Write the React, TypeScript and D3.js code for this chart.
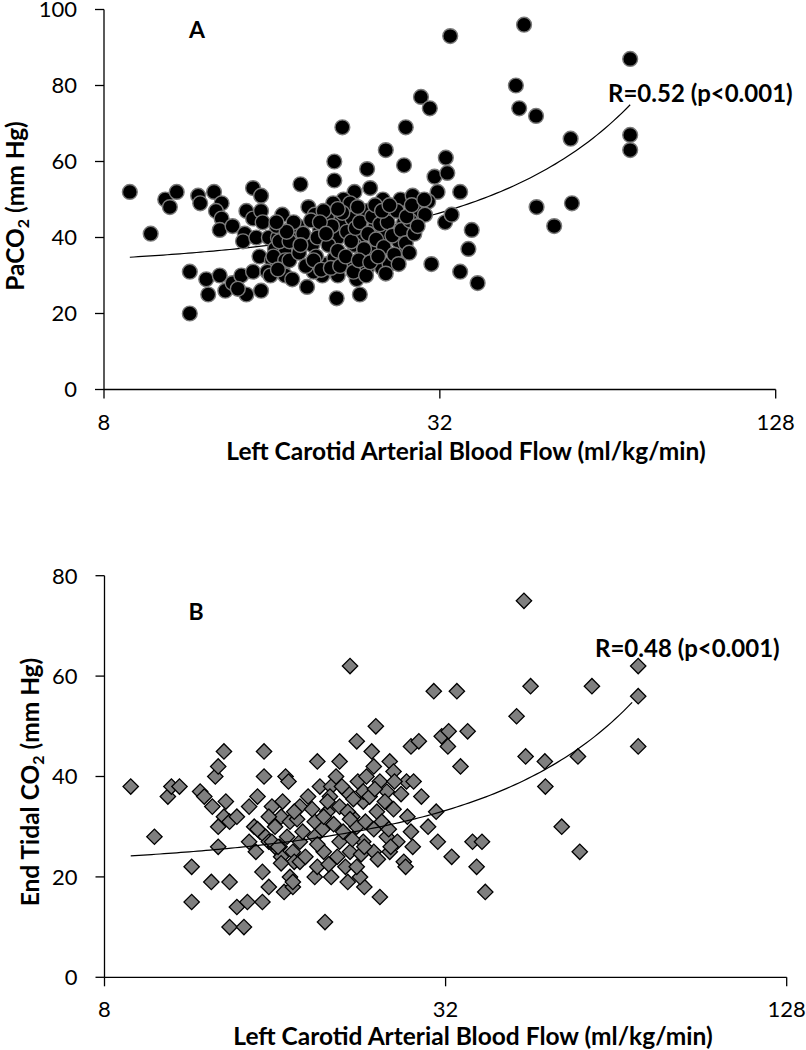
import React from 'react';
import * as d3 from 'd3';

const xTicks = [8, 32, 128];
const yTicksA = [0, 20, 40, 60, 80, 100];
const yTicksB = [0, 20, 40, 60, 80];
const xTitle = 'Left Carotid Arterial Blood Flow (ml/kg/min)';
const rLabelA = 'R=0.52 (p<0.001)';
const rLabelB = 'R=0.48 (p<0.001)';

// Panel A: flow (ml/kg/min), PaCO2 (mm Hg)
const pointsA: [number, number][] = [
  [8.9, 52], [9.7, 41], [10.3, 50], [10.5, 48], [10.8, 52], [11.4, 31], [11.4, 20], [11.8, 51], [11.9, 49],
  [12.6, 52], [13.0, 49], [12.7, 47], [13.0, 45], [12.9, 42], [13.6, 43], [12.2, 29], [12.3, 25], [12.9, 30],
  [13.2, 26], [13.6, 28], [14.1, 30], [14.4, 25], [14.8, 31], [15.3, 26], [13.9, 26.5], [14.8, 53], [15.3, 51],
  [14.4, 47], [14.8, 45], [15.3, 47], [15.4, 44], [14.3, 41], [14.2, 39], [15.0, 40], [15.8, 40], [15.2, 35],
  [16.0, 34], [16.7, 46], [16.5, 42], [16.4, 40], [16.2, 37], [16.9, 36], [16.7, 32], [16.9, 30], [15.7, 31],
  [15.9, 30], [16.3, 43], [17.2, 42], [16.5, 39], [17.6, 40], [16.1, 35], [16.9, 34], [16.4, 31.6],
  [25.6, 63], [20.7, 60], [23.7, 58], [27.6, 59], [32.8, 61], [31.3, 56], [33.0, 57], [31.7, 52], [34.8, 52],
  [18.0, 54], [20.7, 55], [24.0, 53], [22.5, 52], [21.5, 50], [22.1, 49], [20.6, 49], [25.3, 50], [27.2, 50],
  [28.6, 51], [30.5, 49.5], [28.9, 47], [30.1, 46], [32.7, 44], [33.6, 46], [30.9, 33], [34.8, 31], [20.9, 24],
  [23.0, 25], [18.5, 27], [17.4, 29], [19.7, 30], [21.0, 30], [22.7, 29], [23.7, 32], [25.2, 32], [26.0, 33],
  [27.5, 37], [24.3, 36], [21.9, 34], [20.1, 33], [18.6, 48], [19.1, 46], [20.1, 45], [21.2, 44], [22.3, 45],
  [23.7, 47], [25.7, 46], [27.6, 44], [17.8, 43], [19.5, 42], [21.0, 40], [23.0, 40], [24.5, 43], [25.7, 41],
  [27.0, 39], [17.2, 39], [18.9, 38], [22.5, 38], [17.2, 34], [19.2, 35], [20.7, 34.5], [23.2, 35], [19.0, 31],
  [17.5, 44], [18.2, 41], [18.8, 44.5], [19.3, 40], [19.8, 47], [20.2, 38], [20.5, 43], [21.0, 36.5], [21.4, 46.5],
  [21.8, 41.5], [22.2, 39], [22.6, 42.5], [23.0, 44], [23.4, 37], [23.8, 41], [24.2, 45.5], [24.6, 39.5],
  [25.0, 43.5], [25.4, 37.5], [25.8, 44], [26.3, 40.5], [26.8, 47], [27.3, 42], [27.8, 38.5], [28.3, 44.5],
  [28.8, 41], [17.9, 36], [18.4, 32.5], [19.0, 34], [19.6, 31.5], [20.4, 32], [21.2, 32.5], [21.7, 35], [22.4, 31],
  [22.9, 34], [23.6, 30], [24.0, 33.5], [24.8, 35], [25.6, 30.5], [26.5, 35.5], [27.0, 33], [21.0, 47.5],
  [22.8, 48], [24.5, 48.5], [25.2, 47], [19.5, 44], [20.0, 41], [18.0, 38], [17.0, 41.5], [16.3, 44], [26.0, 48.5],
  [27.9, 45.5], [29.2, 43], [28.2, 36], [28.5, 48.5], [30.0, 50],
  [33.4, 93], [45.3, 96], [70.2, 87], [43.8, 80], [44.4, 74], [47.6, 72], [54.9, 66], [70.2, 67], [70.2, 63],
  [36.5, 42], [36.0, 37], [37.4, 28], [47.7, 48], [55.2, 49], [51.3, 43], [21.4, 69], [29.6, 77], [30.7, 74],
  [27.8, 69],
];

// Panel B: flow (ml/kg/min), End tidal CO2 (mm Hg)
const pointsB: [number, number][] = [
  [8.9, 38], [9.8, 28], [10.35, 36], [10.5, 38], [10.85, 38], [11.4, 22], [11.4, 15], [11.8, 37], [12.0, 36],
  [12.4, 34], [12.35, 19], [12.55, 40], [12.7, 42], [13.0, 45], [12.7, 30], [13.0, 32], [13.1, 35], [13.3, 31],
  [13.7, 32], [12.7, 26], [13.3, 19], [13.3, 10], [14.1, 10], [13.7, 14], [14.3, 15], [14.4, 34], [14.9, 36],
  [14.4, 27], [14.8, 25], [15.2, 21], [15.3, 45], [15.3, 40], [15.8, 34], [15.2, 15], [15.6, 18], [16.4, 32],
  [16.7, 40], [16.9, 39], [17.0, 31], [16.6, 17], [14.7, 30], [15.05, 29], [15.4, 28], [15.6, 27], [16.3, 26],
  [16.4, 24], [17.2, 25], [17.0, 20], [17.3, 23], [17.2, 18], [14.9, 29.5], [16.0, 26], [16.4, 22.7], [15.8, 27],
  [30.5, 57], [33.5, 57], [24.1, 50], [22.3, 47], [23.7, 45], [27.8, 46], [28.7, 47], [31.5, 48], [32.4, 49],
  [32.3, 46], [19.0, 43], [20.8, 43], [25.5, 43], [23.9, 42], [19.2, 38], [20.1, 38], [22.4, 39], [23.2, 40],
  [24.5, 39], [25.9, 41], [27.3, 39], [28.1, 39], [29.0, 36], [34.0, 42], [30.8, 33], [29.8, 30], [31.0, 27],
  [32.8, 24], [27.4, 32], [27.8, 29], [28.0, 26], [27.0, 23], [27.2, 22], [24.5, 16], [19.6, 11], [23.0, 18],
  [22.6, 20], [20.1, 20], [18.8, 20], [17.2, 19],
  [17.7, 34], [18.8, 31], [19.8, 33], [20.8, 34], [21.9, 32], [22.9, 35], [24.2, 33], [25.2, 37], [22.9, 37],
  [21.4, 37], [20.0, 36], [16.8, 28], [17.7, 27], [18.8, 28], [19.5, 25], [20.8, 27], [21.7, 25], [22.9, 27],
  [23.9, 25], [25.2, 28], [25.5, 25], [17.7, 23], [19.0, 22], [21.3, 22], [22.3, 22], [21.5, 19],
  [16.0, 30], [16.5, 35], [17.5, 31.5], [17.9, 29], [18.3, 36], [18.6, 33.5], [19.0, 26.5], [19.4, 29.5],
  [19.8, 35], [20.3, 30.5], [20.6, 24], [21.1, 29], [21.5, 33], [21.9, 27.5], [22.3, 30], [22.7, 24.5],
  [23.1, 31], [23.5, 36], [23.9, 29.5], [24.3, 23.5], [24.7, 31], [25.0, 35], [25.4, 29.5], [25.9, 33.5],
  [26.3, 27], [26.7, 36.5], [18.1, 24], [19.9, 22.5], [21.0, 38], [22.0, 35.5], [24.0, 37.5], [26.0, 39],
  [16.2, 26], [15.6, 32], [20.5, 40], [23.0, 26], [21.7, 31.5], [19.5, 32], [17.3, 33], [25.6, 26],
  [44.0, 75], [70.0, 62], [70.0, 56], [70.0, 46], [58.0, 58], [45.2, 58], [42.7, 52], [44.3, 44], [47.9, 43],
  [54.8, 44], [48.0, 38], [51.3, 30], [55.2, 25], [35.0, 49], [35.7, 27], [37.1, 27], [36.3, 22], [37.6, 17],
  [21.7, 62],
];

// Exponential trendlines y = a * exp(b * x)
const trendA = { a: 31.14, b: 0.01251, x0: 8.9, x1: 70.2 };
const trendB = { a: 21.4, b: 0.01376, x0: 8.9, x1: 68.3 };

const FONT = "Lato, Carlito, 'Open Sans', sans-serif";

type PanelProps = {
  left: number; right: number; top: number; bottom: number; yMax: number;
  yTicks: number[]; points: [number, number][]; trend: { a: number; b: number; x0: number; x1: number };
  kind: 'circle' | 'diamond'; letter: string; letterX: number; letterY: number;
  rLabel: string; rX: number; rY: number;
  yTitleMain: string; yTitleTail: string; yTitleX: number; yTitleY: number;
  xTitleX: number; xLabelDy: number; xTitleDy: number; trendOnTop: boolean;
};

function Panel(p: PanelProps) {
  const x = d3.scaleLog().base(2).domain([8, 128]).range([p.left, p.right]);
  const y = d3.scaleLinear().domain([0, p.yMax]).range([p.bottom, p.top]);
  const n = 120;
  const xs = d3.range(n + 1).map((i) => p.trend.x0 * Math.pow(p.trend.x1 / p.trend.x0, i / n));
  const line = d3.line<number>().x((v) => x(v)).y((v) => y(p.trend.a * Math.exp(p.trend.b * v)))(xs) || '';
  const diamond = d3.symbol().type(d3.symbolSquare).size(118)() || '';
  const trendPath = <path d={line} fill="none" stroke="#000" strokeWidth={1.2} />;
  return (
    <g>
      {!p.trendOnTop && trendPath}
      {p.points.map(([fx, fy], i) =>
        p.kind === 'circle' ? (
          <circle key={i} cx={x(fx)} cy={y(fy)} r={7.4} fill="#000" stroke="#7a7a7a" strokeWidth={1.4} />
        ) : (
          <path key={i} d={diamond} transform={`translate(${x(fx)},${y(fy)}) rotate(45)`} fill="#7f7f7f" stroke="#000" strokeWidth={1.3} />
        )
      )}
      {p.trendOnTop && trendPath}
      <line x1={p.left} x2={p.left} y1={p.top} y2={p.bottom} stroke="#000" strokeWidth={1.3} />
      <line x1={p.left} x2={p.right} y1={p.bottom} y2={p.bottom} stroke="#000" strokeWidth={1.3} />
      {p.yTicks.map((t) => (
        <g key={t}>
          <line x1={p.left - 9} x2={p.left} y1={y(t)} y2={y(t)} stroke="#000" strokeWidth={1.3} />
          <text x={p.left - 27} y={y(t)} dy="0.36em" textAnchor="end" fontSize={22} fontFamily={FONT} fill="#000">{t}</text>
        </g>
      ))}
      {xTicks.map((t) => (
        <g key={t}>
          <line x1={x(t)} x2={x(t)} y1={p.bottom} y2={p.bottom + 9} stroke="#000" strokeWidth={1.3} />
          <text x={x(t)} y={p.bottom + p.xLabelDy} textAnchor="middle" fontSize={22} fontFamily={FONT} fill="#000">{t}</text>
        </g>
      ))}
      <text x={p.xTitleX} y={p.bottom + p.xTitleDy} textAnchor="middle" fontSize={24.5} fontWeight="bold" fontFamily={FONT} fill="#000">{xTitle}</text>
      <text transform={`translate(${p.yTitleX},${p.yTitleY}) rotate(-90)`} textAnchor="middle" fontSize={24.5} fontWeight="bold" fontFamily={FONT} fill="#000">
        {p.yTitleMain}
        <tspan fontSize={16} dy={5}>2</tspan>
        <tspan dy={-5}>{p.yTitleTail}</tspan>
      </text>
      <text x={p.letterX} y={p.letterY} textAnchor="middle" fontSize={23} fontWeight="bold" fontFamily={FONT} fill="#000">{p.letter}</text>
      <text x={p.rX} y={p.rY} fontSize={24} fontWeight="bold" fontFamily={FONT} fill="#000">{p.rLabel}</text>
    </g>
  );
}

export default function App() {
  return (
    <svg width={806} height={1050} style={{ position: 'absolute', left: 0, top: 0, background: '#fff' }}>
      <rect width={806} height={1050} fill="#fff" />
      <Panel left={104} right={775.7} top={9.5} bottom={389.5} yMax={100} yTicks={yTicksA} points={pointsA}
        trend={trendA} kind="circle" letter="A" letterX={197} letterY={38} rLabel={rLabelA} rX={608} rY={102}
        yTitleMain="PaCO" yTitleTail=" (mm Hg)" yTitleX={24} yTitleY={206} xTitleX={466} xLabelDy={40} xTitleDy={70}
        trendOnTop={false} />
      <Panel left={104.5} right={786.7} top={575.7} bottom={977.3} yMax={80} yTicks={yTicksB} points={pointsB}
        trend={trendB} kind="diamond" letter="B" letterX={196} letterY={620} rLabel={rLabelB} rX={595} rY={657}
        yTitleMain="End Tidal CO" yTitleTail=" (mm Hg)" yTitleX={39} yTitleY={782} xTitleX={473} xLabelDy={40} xTitleDy={68}
        trendOnTop={true} />
    </svg>
  );
}
